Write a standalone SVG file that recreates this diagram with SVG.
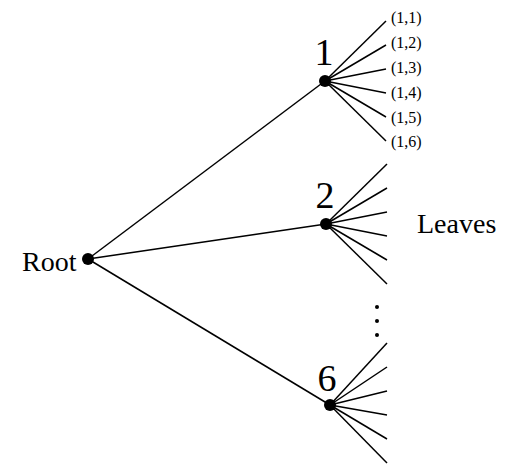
<svg xmlns="http://www.w3.org/2000/svg" width="508" height="465" viewBox="0 0 508 465">
<style>
.e{stroke:#000;stroke-width:1.5;fill:none}
.d{fill:#000}
text{font-family:"Liberation Serif","Times New Roman",Times,"Tinos","Noto Serif","DejaVu Serif",serif;fill:#000}
.big{font-size:38px;text-anchor:middle}
.lab{font-size:28px}
.leaf{font-size:16px}
</style>
<rect width="508" height="465" fill="#fff"/>
<g id="connectors">
<line class="e" x1="88" y1="259" x2="325" y2="81"/>
<line class="e" x1="88" y1="259" x2="326" y2="224"/>
<line class="e" x1="88" y1="259" x2="330" y2="405"/>
<g id="leaves1">
<line class="e" x1="325" y1="81" x2="386" y2="21"/>
<line class="e" x1="325" y1="81" x2="386" y2="45"/>
<line class="e" x1="325" y1="81" x2="386" y2="69"/>
<line class="e" x1="325" y1="81" x2="386" y2="93"/>
<line class="e" x1="325" y1="81" x2="386" y2="117"/>
<line class="e" x1="325" y1="81" x2="386" y2="141"/>
</g>
<g id="leaves2">
<line class="e" x1="326" y1="224" x2="387" y2="164"/>
<line class="e" x1="326" y1="224" x2="387" y2="188"/>
<line class="e" x1="326" y1="224" x2="387" y2="212"/>
<line class="e" x1="326" y1="224" x2="387" y2="236"/>
<line class="e" x1="326" y1="224" x2="387" y2="260"/>
<line class="e" x1="326" y1="224" x2="387" y2="284"/>
</g>
<g id="leaves6">
<line class="e" x1="330" y1="405" x2="387" y2="343"/>
<line class="e" x1="330" y1="405" x2="387" y2="367"/>
<line class="e" x1="330" y1="405" x2="387" y2="391"/>
<line class="e" x1="330" y1="405" x2="387" y2="415"/>
<line class="e" x1="330" y1="405" x2="387" y2="439"/>
<line class="e" x1="330" y1="405" x2="387" y2="463"/>
</g>
</g>
<g id="root">
<circle class="d" cx="88" cy="259" r="6"/>
<text class="lab" x="22" y="271">Root</text>
</g>
<g id="node1">
<circle class="d" cx="325" cy="81" r="6"/>
<text class="big" x="324" y="65">1</text>
</g>
<g id="node2">
<circle class="d" cx="326" cy="224" r="6"/>
<text class="big" x="325" y="208">2</text>
</g>
<g id="node6">
<circle class="d" cx="330" cy="405" r="6"/>
<text class="big" x="327" y="391">6</text>
</g>
<g id="leaflabels">
<text class="leaf" x="391" y="23">(1,1)</text>
<text class="leaf" x="391" y="48">(1,2)</text>
<text class="leaf" x="391" y="73">(1,3)</text>
<text class="leaf" x="391" y="98">(1,4)</text>
<text class="leaf" x="391" y="123">(1,5)</text>
<text class="leaf" x="391" y="147">(1,6)</text>
</g>
<g id="leavesLabel">
<text class="lab" x="417" y="233">Leaves</text>
</g>
<g id="ellipsis">
<circle class="d" cx="377" cy="307" r="2"/>
<circle class="d" cx="377" cy="321" r="2"/>
<circle class="d" cx="377" cy="335" r="2"/>
</g>
</svg>
